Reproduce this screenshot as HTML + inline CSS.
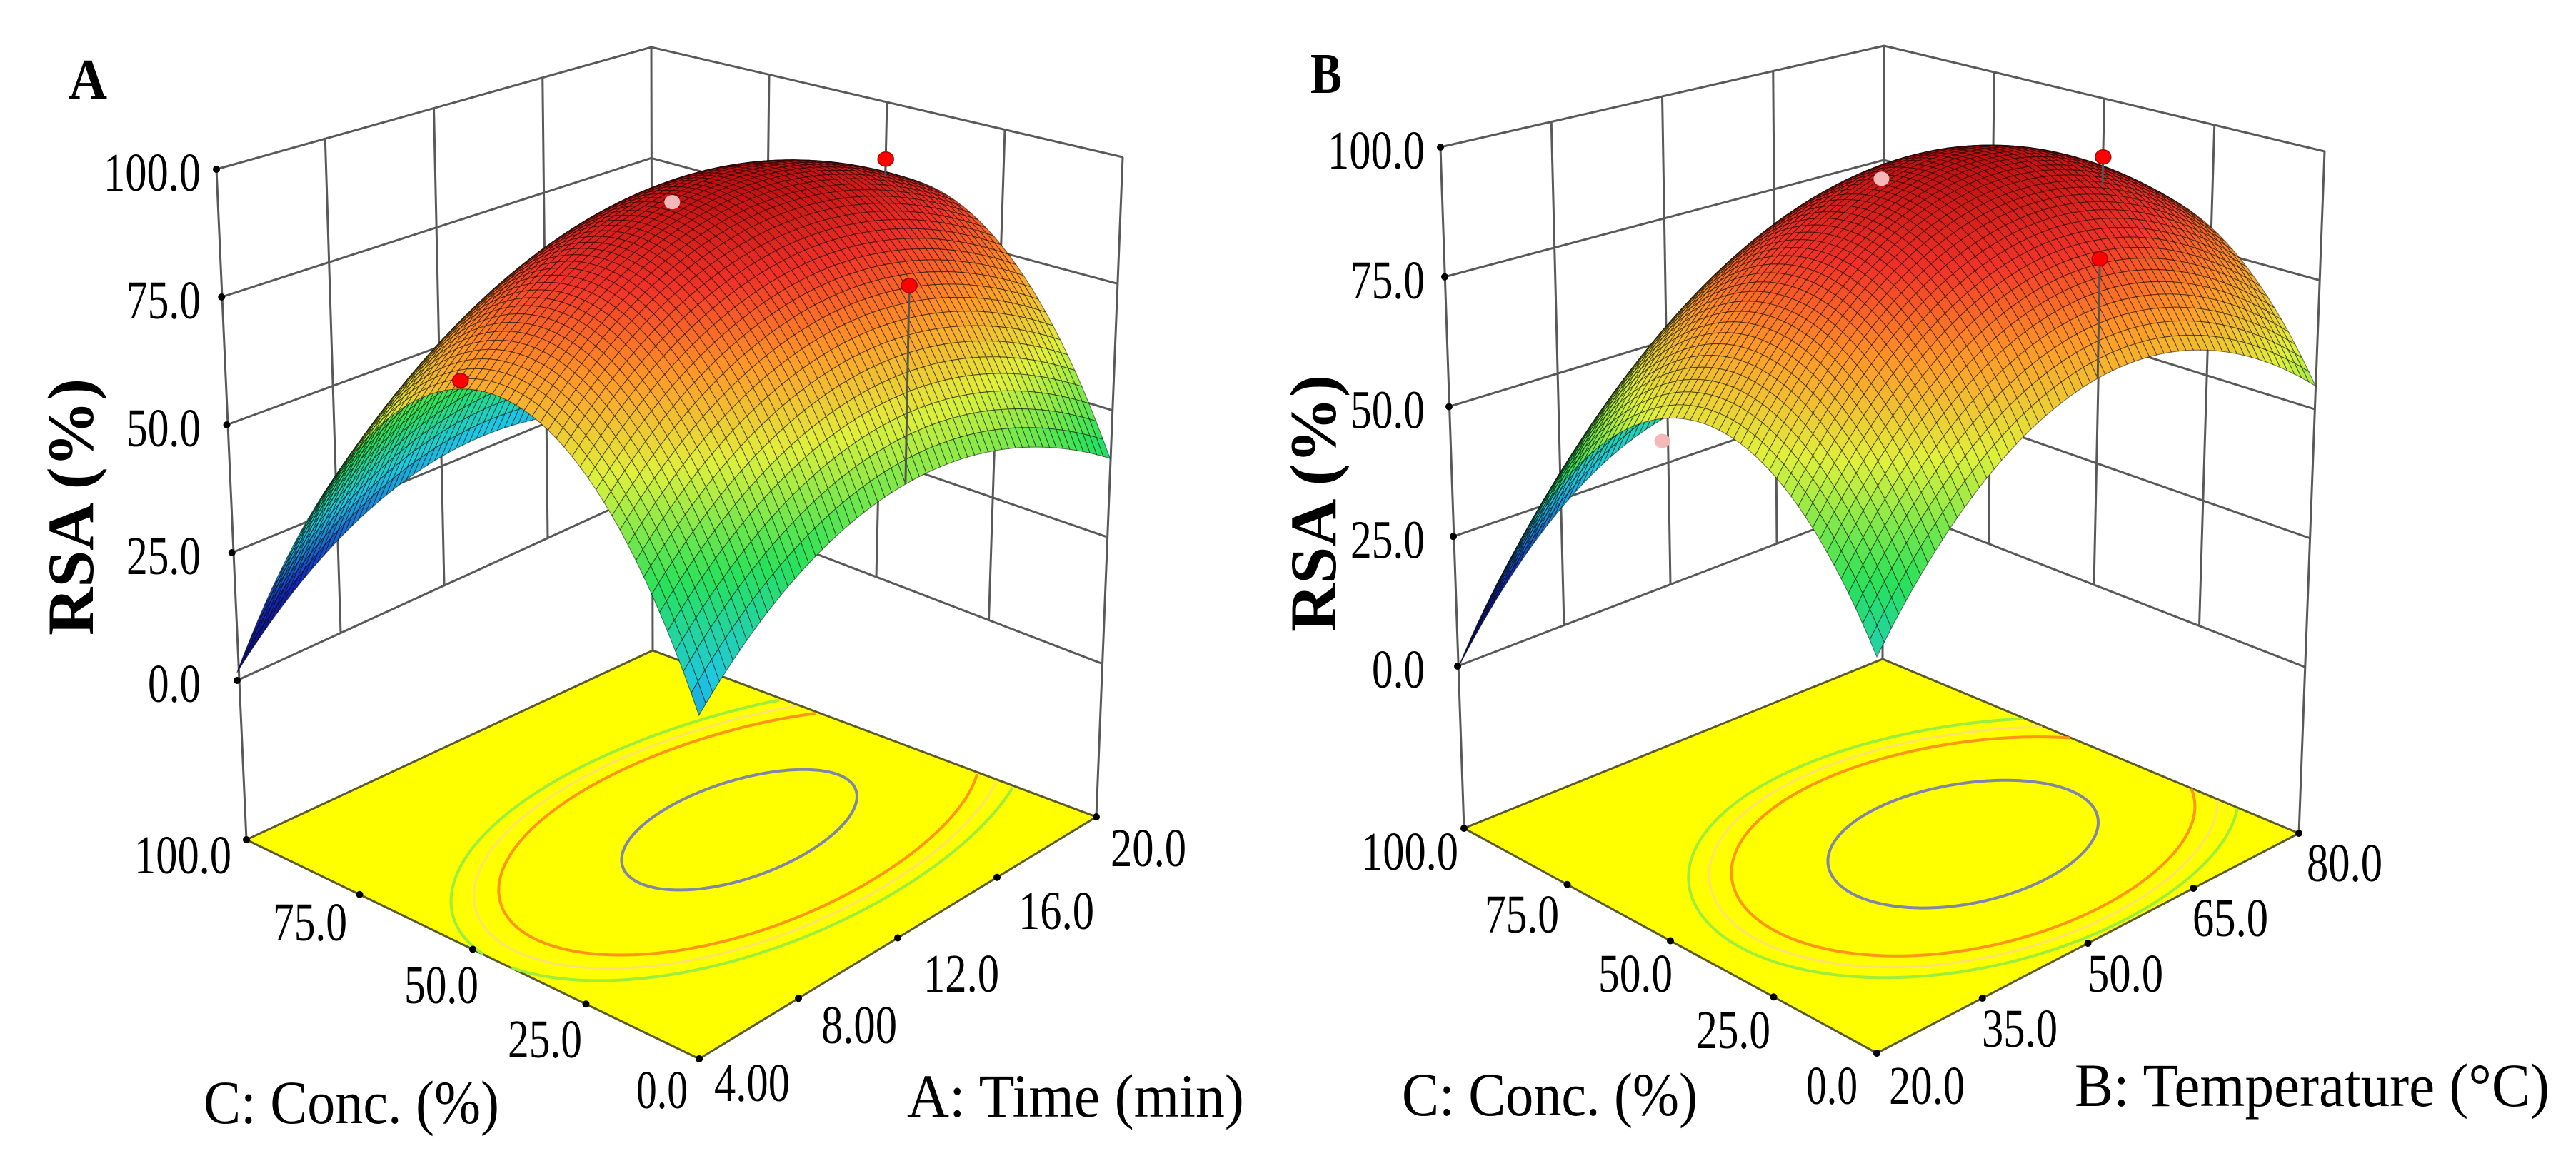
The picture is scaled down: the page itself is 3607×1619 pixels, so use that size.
<!DOCTYPE html>
<html><head><meta charset="utf-8">
<style>html,body{margin:0;padding:0;background:#fff;}svg{display:block;}</style>
</head><body>
<svg id="fig" width="3607" height="1619" viewBox="0 0 3607 1619" xmlns="http://www.w3.org/2000/svg"></svg>
<script>
// ---- chart data ----
const zTickLabels = ["0.0","25.0","50.0","75.0","100.0"];
const zTickValues = [0,25,50,75,100];
const concTickLabels = ["0.0","25.0","50.0","75.0","100.0"];
const timeTickLabels = ["4.00","8.00","12.0","16.0","20.0"];
const tempTickLabels = ["20.0","35.0","50.0","65.0","80.0"];
// quadratic model coefficients (coded units): b0, b1 (x), b3 (conc), b11, b33, b13
const coefA = [95, 7.5, -12, -18, -56, 0];
const coefB = [97, 10, -17.5, -25, -45, 0];
// design points (coded x, coded conc, RSA %)
const ptsA_x = [0, 1, 0, -1];
const ptsA_c = [0, 0, -1, 0];
const ptsA_y = [92, 88, 87, 71];
const ptsB_x = [0, 1, 0, -1];
const ptsB_c = [0, 0, -1, 0];
const ptsB_y = [95, 88, 91, 58];
const contourLevelsA = [92, 78, 74, 70];
const contourLevelsB = [93, 80, 76, 72];
const contourColors = ["#7f86a6", "#ff9418", "#ffe070", "#9ced3c"];

// ---- layout ----
const NS = "http://www.w3.org/2000/svg";
const svg = document.getElementById("fig");
const SERIF = '"Liberation Serif", "DejaVu Serif", serif';

const panels = [
  { id: "a", coef: coefA, px: ptsA_x, pc: ptsA_c, py: ptsA_y, levels: contourLevelsA,
    xTicks: timeTickLabels, letter: "A", xTitle: "A: Time (min)",
    L: {f:[345,1176], z0:[332,953], z1:[303,237]},
    B: {f:[914,911], z0:[912,687], z1:[912,66]},
    R: {f:[1535,1144], z0:[1542,929], z1:[1572,220]},
    F: {f:[979,1483], z0:[979,1215], z1:[978,379]},
    yLabelRight: 281,
    concPos: [[963,1552],[815,1481],[670,1405],[486,1317],[324,1223]],
    xPos: [[1000,1542],[1150,1461],[1293,1389],[1426,1301],[1555,1213]],
    concTitle: [285,1573,414], xTitleP: [1270,1564,472],
    rsa: [100,710], letterP: [96,138,54] },
  { id: "b", coef: coefB, px: ptsB_x, pc: ptsB_c, py: ptsB_y, levels: contourLevelsB,
    xTicks: tempTickLabels, letter: "B", xTitle: "B: Temperature (°C)",
    L: {f:[2050,1160], z0:[2041,933], z1:[2017,206]},
    B: {f:[2636,923], z0:[2637,704], z1:[2638,64]},
    R: {f:[3219,1167], z0:[3227,934], z1:[3255,212]},
    F: {f:[2628,1475], z0:[2628,1208], z1:[2628,373]},
    yLabelRight: 1995,
    concPos: [[2601,1546],[2479,1468],[2342,1389],[2183,1306],[2042,1218]],
    xPos: [[2645,1546],[2775,1466],[2923,1389],[3070,1311],[3230,1234]],
    concTitle: [1963,1562,414], xTitleP: [2905,1549,665],
    rsa: [1840,705], letterP: [1835,130,44] }
];

function el(tag, attrs, parent) {
  const e = document.createElementNS(NS, tag);
  for (const k in attrs) e.setAttribute(k, attrs[k]);
  (parent || svg).appendChild(e);
  return e;
}
function model(c, a, x) { return c[0] + c[1]*a + c[2]*x + c[3]*a*a + c[4]*x*x + c[5]*a*x; }
function bil(P, key, u, v) {
  const F = P.F[key], R = P.R[key], L = P.L[key], B = P.B[key];
  return [F[0]*(1-u)*(1-v) + R[0]*u*(1-v) + L[0]*(1-u)*v + B[0]*u*v,
          F[1]*(1-u)*(1-v) + R[1]*u*(1-v) + L[1]*(1-u)*v + B[1]*u*v];
}
function proj(P, u, v, z) {
  const p0 = bil(P, "z0", u, v), p1 = bil(P, "z1", u, v);
  return [p0[0] + (p1[0]-p0[0])*z/100, p0[1] + (p1[1]-p0[1])*z/100];
}
function floorP(P, u, v) { return bil(P, "f", u, v); }
const stops = [[0,[10,10,110]],[0.14,[20,40,190]],[0.3,[30,200,225]],[0.45,[40,225,90]],[0.62,[225,240,60]],[0.76,[255,150,40]],[0.88,[240,50,40]],[1,[190,15,15]]];
function cmap(t) {
  t = Math.max(0, Math.min(1, t));
  for (let i = 1; i < stops.length; i++) {
    if (t <= stops[i][0]) {
      const s0 = stops[i-1], s1 = stops[i], f = (t - s0[0])/(s1[0]-s0[0]);
      const c = s0[1].map((x, k) => Math.round(x + (s1[1][k]-x)*f));
      return "rgb(" + c.join(",") + ")";
    }
  }
  return "rgb(190,15,15)";
}
function pts(arr) { return arr.map(p => p[0].toFixed(1) + "," + p[1].toFixed(1)).join(" "); }
function text(parent, str, x, y, size, opts) {
  const t = el("text", {x: x, y: y, "font-family": SERIF, "font-size": size, fill: "#000"}, parent);
  if (opts.anchor) t.setAttribute("text-anchor", opts.anchor);
  if (opts.bold) t.setAttribute("font-weight", "bold");
  if (opts.len) { t.setAttribute("textLength", opts.len); t.setAttribute("lengthAdjust", "spacingAndGlyphs"); }
  if (opts.transform) t.setAttribute("transform", opts.transform);
  t.textContent = str;
  return t;
}

panels.forEach(P => {
  const g = el("g", {});
  
  

  const floor = el("polygon", {points: pts([floorP(P,0,0), floorP(P,1,0), floorP(P,1,1), floorP(P,0,1)]), fill: "#ffff00", stroke: "#5a5a2a", "stroke-width": 3}, g);
  
  

  const c = P.coef;
  const det = 4*c[3]*c[4] - c[5]*c[5];
  const as = (-c[1]*2*c[4] + c[5]*c[2]) / det;
  const xs = (-2*c[3]*c[2] + c[5]*c[1]) / det;
  P.levels.forEach((lev, li) => {
    let segs = [], cur = [];
    for (let k = 0; k <= 360; k++) {
      const th = k * Math.PI / 180, da = Math.cos(th), dx = Math.sin(th);
      let lo = 0, hi = 4;
      if (model(c, as + hi*da, xs + hi*dx) > lev) { continue; }
      for (let it = 0; it < 40; it++) {
        const m = (lo+hi)/2;
        if (model(c, as + m*da, xs + m*dx) > lev) lo = m; else hi = m;
      }
      const a = as + lo*da, x = xs + lo*dx;
      if (a < -1 || a > 1 || x < -1 || x > 1) { if (cur.length > 1) segs.push(cur); cur = []; continue; }
      cur.push(floorP(P, (a+1)/2, (x+1)/2));
    }
    if (cur.length > 1) segs.push(cur);
    segs.forEach(s => {
      const pl = el("polyline", {points: pts(s), fill: "none", stroke: contourColors[li], "stroke-width": li === 2 ? 3 : 4}, g);
      
      
    });
  });

  const wallStroke = {stroke: "#595959", "stroke-width": 3, fill: "none"};
  const gridG = el("g", wallStroke, g);
  
  
  zTickValues.forEach(z => {
    el("polyline", {points: pts([proj(P,0,1,z), proj(P,1,1,z), proj(P,1,0,z)])}, gridG);
  });
  for (let i = 1; i < 4; i++) {
    el("line", {x1: proj(P,i/4,1,0)[0], y1: proj(P,i/4,1,0)[1], x2: proj(P,i/4,1,100)[0], y2: proj(P,i/4,1,100)[1]}, gridG);
    el("line", {x1: proj(P,1,i/4,0)[0], y1: proj(P,1,i/4,0)[1], x2: proj(P,1,i/4,100)[0], y2: proj(P,1,i/4,100)[1]}, gridG);
  }
  [[0,1],[1,1],[1,0]].forEach(([u,v]) => {
    const f = floorP(P,u,v), t = proj(P,u,v,100);
    el("line", {x1: f[0], y1: f[1], x2: t[0], y2: t[1]}, gridG);
  });

  const N = 60;
  const vals = [];
  let ymin = Infinity, ymax = -Infinity;
  for (let i = 0; i <= N; i++) { vals.push([]); for (let j = 0; j <= N; j++) {
    const y = model(c, -1 + 2*i/N, -1 + 2*j/N); vals[i].push(y); ymin = Math.min(ymin, y); ymax = Math.max(ymax, y);
  } }
  const quads = [];
  for (let i = 0; i < N; i++) for (let j = 0; j < N; j++) quads.push([i, j]);
  quads.sort((p, q) => (q[0]+q[1]) - (p[0]+p[1]));
  const surfG = el("g", {stroke: "rgba(0,0,0,0.5)", "stroke-width": 1.1}, g);
  
  
  quads.forEach(([i, j]) => {
    const p = [proj(P,i/N,j/N,vals[i][j]), proj(P,(i+1)/N,j/N,vals[i+1][j]), proj(P,(i+1)/N,(j+1)/N,vals[i+1][j+1]), proj(P,i/N,(j+1)/N,vals[i][j+1])];
    const avg = (vals[i][j] + vals[i+1][j] + vals[i+1][j+1] + vals[i][j+1]) / 4;
    el("polygon", {points: pts(p), fill: cmap((avg - ymin) / (ymax - ymin))}, surfG);
  });

  P.px.forEach((a, k) => {
    const x = P.pc[k], y = P.py[k], u = (a+1)/2, v = (x+1)/2;
    const s = model(c, a, x);
    const top = proj(P,u,v,y), bot = proj(P,u,v,s);
    const above = y >= s;
    if (above) {
      const st = el("line", {x1: top[0], y1: top[1], x2: bot[0], y2: bot[1], stroke: "#555", "stroke-width": 3}, g);
      
      
    }
    const d = el("ellipse", {cx: top[0], cy: top[1], rx: 11, ry: 10, fill: above ? "#ff0000" : "#f4b8b8", stroke: above ? "#a00" : "none", "stroke-width": 1.5}, g);
    
    
  });

  zTickValues.forEach((z, k) => {
    const p = proj(P,0,1,z);
    const dt = el("circle", {cx: p[0], cy: p[1], r: 5, fill: "#000"}, g);
    
    
    const t = text(g, zTickLabels[k], P.yLabelRight, p[1] + 30, 76, {anchor: "end", len: zTickLabels[k].length === 5 ? 136 : (zTickLabels[k].length === 4 ? 104 : 74)});
    
    
  });
  concTickLabels.forEach((lab, k) => {
    const p = floorP(P,0,k/4);
    const dt = el("circle", {cx: p[0], cy: p[1], r: 5, fill: "#000"}, g);
    
    
    const q = P.concPos[k];
    const t = text(g, lab, q[0], q[1], 76, {anchor: "end", len: lab.length === 5 ? 136 : (lab.length === 4 ? 104 : 72)});
    
    
  });
  P.xTicks.forEach((lab, k) => {
    const p = floorP(P,k/4,0);
    const dt = el("circle", {cx: p[0], cy: p[1], r: 5, fill: "#000"}, g);
    
    
    const q = P.xPos[k];
    const t = text(g, lab, q[0], q[1], 76, {len: 106});
    
    
  });

  const ct = text(g, "C: Conc. (%)", P.concTitle[0], P.concTitle[1], 86, {len: P.concTitle[2]});
  
  
  const xt = text(g, P.xTitle, P.xTitleP[0], P.xTitleP[1], 86, {len: P.xTitleP[2]});
  
  
  const rt = text(g, "RSA (%)", 0, 0, 92, {anchor: "middle", bold: true, len: 360, transform: "translate(" + (P.rsa[0] + 30) + "," + P.rsa[1] + ") rotate(-90)"});
  
  
  const lt = text(g, P.letter, P.letterP[0], P.letterP[1], 80, {bold: true, len: P.letterP[2]});
  
  
});
</script>
</body></html>
